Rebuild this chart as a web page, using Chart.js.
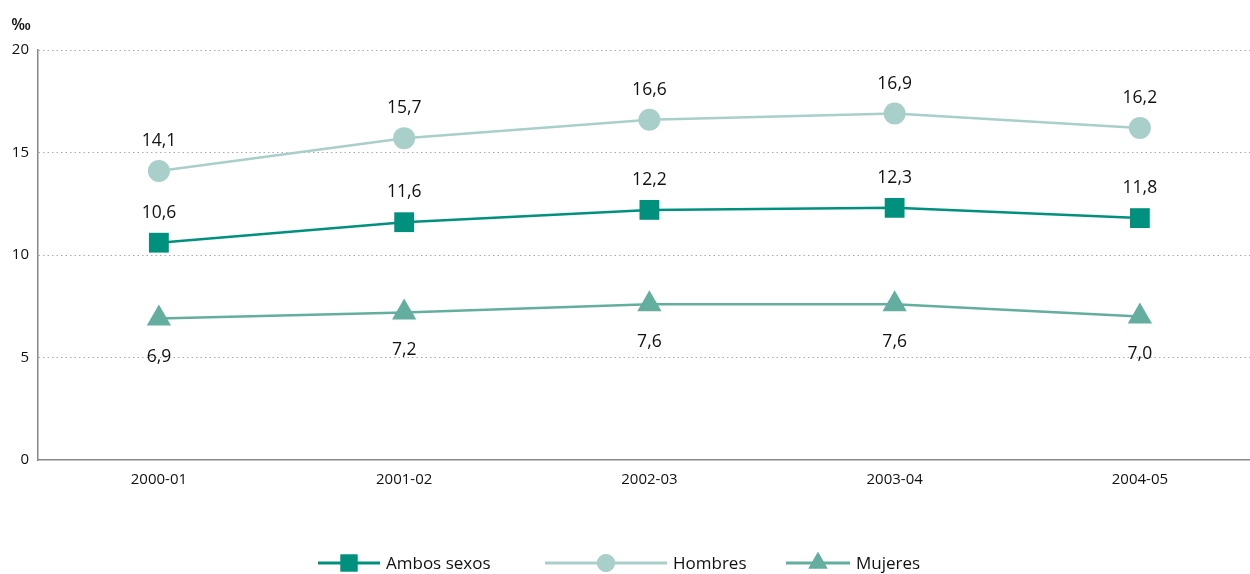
<!DOCTYPE html>
<html>
<head>
<meta charset="utf-8">
<script src="https://cdn.jsdelivr.net/npm/chart.js@4.4.1/dist/chart.umd.min.js"></script>
<style>
html,body{margin:0;padding:0;background:#fff;overflow:hidden;}
#wrap{width:1250px;height:574px;position:relative;}
canvas{display:block;}
</style>
</head>
<body>
<div id="wrap"><canvas id="c" width="1250" height="574"></canvas></div>
<script>
const categories = ["2000-01","2001-02","2002-03","2003-04","2004-05"];
const ambosSexos = [10.6, 11.6, 12.2, 12.3, 11.8];
const hombres = [14.1, 15.7, 16.6, 16.9, 16.2];
const mujeres = [6.9, 7.2, 7.6, 7.6, 7.0];
const seriesNames = ["Ambos sexos","Hombres","Mujeres"];
const yTicks = [0,5,10,15,20];
const unitLabel = "‰";

const FONT = "'Open Sans', 'Noto Sans', sans-serif";
const cAmbos = "#00917e";
const cHombres = "#a9cfca";
const cMujeres = "#63ae9f";

function pts(arr){ return arr.map((v,i)=>({x:i,y:v})); }
function fmt(v){ return v.toFixed(1).replace('.', ','); }

const labelPlugin = {
  id:'labels',
  afterDatasetsDraw(chart){
    const ctx = chart.ctx;
    ctx.save();
    ctx.font = "17.5px " + FONT;
    ctx.fillStyle = "#111";
    ctx.textAlign = "center";
    ctx.textBaseline = "middle";
    chart.data.datasets.forEach((ds,di)=>{
      const meta = chart.getDatasetMeta(di);
      meta.data.forEach((el,i)=>{
        const v = ds.data[i].y;
        const off = ds.labelPos === 'below' ? 38 : -30;
        ctx.fillText(fmt(v), el.x, el.y + off);
      });
    });
    // unit label
    ctx.font = "600 16px " + FONT;
    ctx.textAlign = "center";
    ctx.fillText(unitLabel, 21, 25);
    // legend
    const items = [
      {x:318, w:62, ds:0},
      {x:545, w:122, ds:1},
      {x:786, w:64, ds:2}
    ];
    const ly = 563;
    ctx.font = "17px " + FONT;
    ctx.textAlign = "left";
    items.forEach(it=>{
      const ds = chart.data.datasets[it.ds];
      ctx.strokeStyle = ds.borderColor;
      ctx.lineWidth = 3;
      ctx.beginPath(); ctx.moveTo(it.x, ly); ctx.lineTo(it.x+it.w, ly); ctx.stroke();
      ctx.fillStyle = ds.borderColor;
      Chart.helpers.drawPoint(ctx, {pointStyle: ds.pointStyle, radius: ds.legendRadius, borderWidth:0}, it.x+it.w/2, ly);
      ctx.fill();
      ctx.fillStyle = "#111";
      ctx.fillText(seriesNames[it.ds], it.x+it.w+6, ly+1);
    });
    ctx.restore();
  }
};

new Chart(document.getElementById('c'), {
  type:'line',
  data:{
    datasets:[
      {label:seriesNames[0], data:pts(ambosSexos), borderColor:cAmbos, backgroundColor:cAmbos,
       pointStyle:'rect', pointRadius:14, pointHoverRadius:14, borderWidth:2.5, pointBorderWidth:0, labelPos:'above', legendRadius:12},
      {label:seriesNames[1], data:pts(hombres), borderColor:cHombres, backgroundColor:cHombres,
       pointStyle:'circle', pointRadius:11, pointHoverRadius:11, borderWidth:2.5, pointBorderWidth:0, labelPos:'above', legendRadius:9},
      {label:seriesNames[2], data:pts(mujeres), borderColor:cMujeres, backgroundColor:cMujeres,
       pointStyle:'triangle', pointRadius:14, pointHoverRadius:14, borderWidth:2.5, pointBorderWidth:0, labelPos:'below', legendRadius:11}
    ]
  },
  options:{
    responsive:false,
    animation:false,
    events:[],
    layout:{autoPadding:false, padding:{top:50,right:0,left:0,bottom:0}},
    plugins:{legend:{display:false}, tooltip:{enabled:false}},
    elements:{line:{tension:0}},
    scales:{
      x:{
        type:'linear', min:-0.493, max:4.449,
        afterFit(s){ s.height = 114; s.paddingLeft = 0; s.paddingRight = 0; },
        afterBuildTicks(s){ s.ticks = categories.map((c,i)=>({value:i})); },
        ticks:{ callback:(v)=>categories[v] ?? '', color:'#111', font:{family:FONT,size:15}, padding:11, maxRotation:0, autoSkip:false },
        grid:{display:false, drawTicks:false},
        border:{display:true, color:'#888', width:1.5}
      },
      y:{
        min:0, max:20,
        afterFit(s){ s.width = 38; s.paddingTop = 0; s.paddingBottom = 0; },
        afterBuildTicks(s){ s.ticks = yTicks.map(v=>({value:v})); },
        ticks:{ color:'#111', font:{family:FONT,size:15}, padding:9 },
        grid:{ drawTicks:false, color:(c)=> c.tick && c.tick.value===0 ? 'rgba(0,0,0,0)' : '#aaa', lineWidth:1 },
        border:{display:true, color:'#888', width:1.5, dash:[1.5,3]}
      }
    }
  },
  plugins:[labelPlugin]
});
</script>
</body>
</html>
